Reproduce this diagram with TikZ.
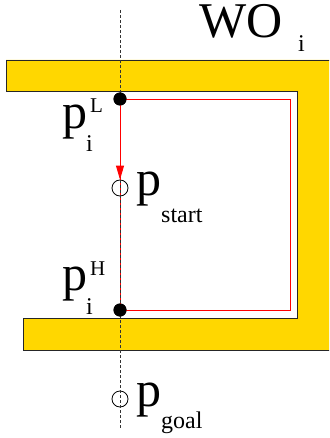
\documentclass[tikz,border=0pt]{standalone}
\usepackage{fontspec}
\setmainfont{Liberation Serif}
\usetikzlibrary{arrows.meta}
\definecolor{wogold}{RGB}{255,215,0}
\tikzset{
  wall/.style={fill=wogold, draw=none},
  walledge/.style={draw=black!85, line width=0.9pt},
  hitdot/.style={circle, fill=black, draw=none, minimum size=13pt, inner sep=0pt},
  opendot/.style={circle, draw=black, line width=0.8pt, minimum size=16pt, inner sep=0pt},
  guide/.style={draw=black!80, line width=0.6pt, dash pattern=on 3pt off 2pt},
  redpath/.style={draw=red, line width=0.9pt},
  bigp/.style={anchor=base west, inner sep=0pt, font=\fontsize{50}{50}\selectfont},
  supscr/.style={anchor=base west, inner sep=0pt, font=\fontsize{21}{21}\selectfont},
  subscr/.style={anchor=base west, inner sep=0pt, font=\fontsize{24}{24}\selectfont},
}
\begin{document}
\begin{tikzpicture}[x=1pt,y=-1pt]
\useasboundingbox (0,0) rectangle (329,438);
\clip (0,0) rectangle (329,438);
% yellow wall
\fill[wall] (6,60) -- (340,60) -- (340,350) -- (23,350) -- (23,318) -- (297,318) -- (297,91) -- (6,91) -- cycle;
\draw[walledge] (340,60) -- (6,60) -- (6,91) -- (297,91) -- (297,318) -- (23,318) -- (23,350) -- (340,350);
% points
\node[hitdot] (pL) at (120,99) {};
\node[hitdot] (pH) at (120,310) {};
\node[opendot] (ps) at (120,188) {};
\node[opendot] (pg) at (120,399) {};
\coordinate (gtop) at (120,10);
\coordinate (gbot) at (120,428);
\coordinate (cHR) at (290,310);
\coordinate (cLR) at (290,99);
% red boundary path
\draw[redpath] (pL.center) -- (pH.center) -- (cHR) -- (cLR) -- (pL.center);
% vertical guide
\draw[guide] (gtop) -- (gbot);
\draw[redpath, -{Triangle[length=14pt,width=8pt]}] (pL.center) -- (ps.north);
\node[hitdot] at (pL) {};
\node[hitdot] at (pH) {};
% labels
\node[bigp] (wo) at (199,38) {WO};
\node[subscr] (woi) at (298,52) {i};
\node[bigp] (lpL) at (62,129) {p};
\node[supscr] (lpLs) at (90,113) {L};
\node[subscr] (lpLi) at (86,152) {i};
\node[bigp] (lpH) at (62,290) {p};
\node[supscr] (lpHs) at (90,275) {H};
\node[subscr] (lpHi) at (86,314) {i};
\node[bigp] (lps) at (136,196) {p};
\node[subscr] (lpss) at (161,222) {start};
\node[bigp] (lpg) at (136,406) {p};
\node[subscr] (lpgs) at (161,428) {goal};
\end{tikzpicture}
\end{document}
